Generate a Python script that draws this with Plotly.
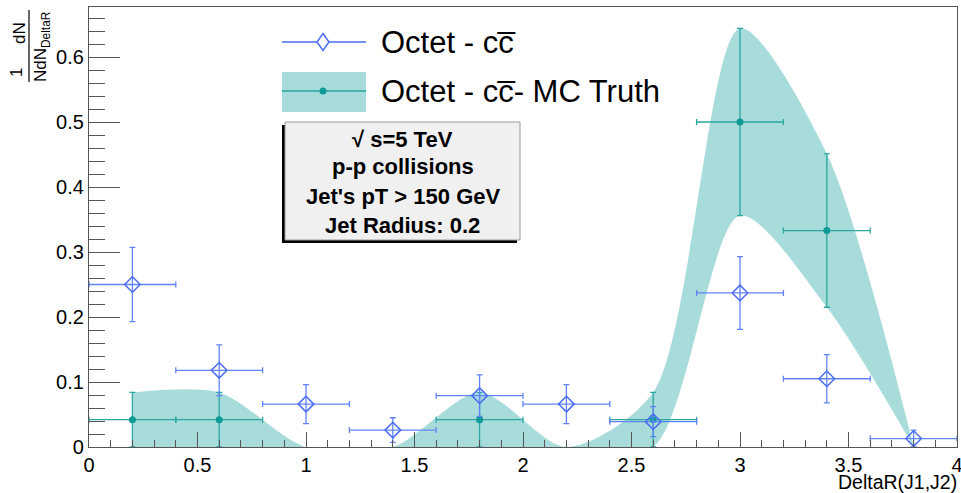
import plotly.graph_objects as go

# ---- data: normalised DeltaR(J1,J2) distributions, 10 bins of width 0.4 ----
delta_r = [0.2, 0.6, 1.0, 1.4, 1.8, 2.2, 2.6, 3.0, 3.4, 3.8]
bin_half_width = [0.2, 0.2, 0.2, 0.2, 0.2, 0.2, 0.2, 0.2, 0.2, 0.2]

octet_cc = [0.250, 0.118, 0.066, 0.026, 0.079, 0.066, 0.039, 0.237, 0.105, 0.013]
octet_cc_err = [0.057, 0.039, 0.030, 0.019, 0.032, 0.030, 0.023, 0.056, 0.037, 0.013]

octet_cc_mc = [0.042, 0.042, 0.0, 0.0, 0.042, 0.0, 0.042, 0.500, 0.333, 0.0]
octet_cc_mc_err = [0.042, 0.042, 0.0, 0.0, 0.042, 0.0, 0.042, 0.144, 0.118, 0.0]

x_range = [0, 4]
info_lines = ["√ s=5 TeV", "p-p collisions", "Jet's pT > 150 GeV", "Jet Radius: 0.2"]
legend_labels = ["Octet - cc\u0305", "Octet - cc\u0305- MC Truth"]

# ---- page geometry (pixels) ----
W, H = 961, 493
ML, MR, MT, MB = 89, 4, 7, 46
PW, PH = W - ML - MR, H - MT - MB
Y_PER_UNIT = 650.0
y_top = PH / Y_PER_UNIT

FONT = "Liberation Sans, Arial, Helvetica, sans-serif"
BLUE = "#4a6cf4"
BLUE_ERR = "#6283f8"
TEAL = "#0e9a95"
TEAL_ERR = "#2aa7a1"
BAND = "#a8dcdb"


def px(xp):
    return (xp - ML) / PW


def py(yp):
    return (H - MB - yp) / PH


band_hi = [v + e for v, e in zip(octet_cc_mc, octet_cc_mc_err)]
band_lo = [v - e for v, e in zip(octet_cc_mc, octet_cc_mc_err)]

mc_idx = [i for i, v in enumerate(octet_cc_mc) if v > 0]

fig = go.Figure()

# smoothed MC-truth uncertainty band
SMOOTH = 0.8
fig.add_trace(go.Scatter(
    x=delta_r, y=band_lo, mode="lines",
    line=dict(width=0, shape="spline", smoothing=SMOOTH, color=BAND),
    showlegend=False, hoverinfo="skip"))
fig.add_trace(go.Scatter(
    x=delta_r, y=band_hi, mode="lines", fill="tonexty", fillcolor=BAND,
    line=dict(width=0, shape="spline", smoothing=SMOOTH, color=BAND),
    showlegend=False, hoverinfo="skip"))

# MC-truth points
fig.add_trace(go.Scatter(
    x=[delta_r[i] for i in mc_idx],
    y=[octet_cc_mc[i] for i in mc_idx],
    mode="markers",
    marker=dict(symbol="circle", size=7, color=TEAL),
    error_y=dict(type="data", array=[octet_cc_mc_err[i] for i in mc_idx],
                 color=TEAL_ERR, thickness=1.3, width=3),
    error_x=dict(type="data", array=[bin_half_width[i] for i in mc_idx],
                 color=TEAL_ERR, thickness=1.3, width=3),
    showlegend=False))

# reconstructed octet points
fig.add_trace(go.Scatter(
    x=delta_r, y=octet_cc, mode="markers",
    marker=dict(symbol="diamond-open", size=12, color=BLUE,
                line=dict(width=1.5, color=BLUE)),
    error_y=dict(type="data", array=octet_cc_err,
                 color=BLUE_ERR, thickness=1.3, width=3),
    error_x=dict(type="data", array=bin_half_width,
                 color=BLUE_ERR, thickness=1.3, width=3),
    showlegend=False))

shapes = []
annotations = []

# ---- legend drawn by hand ----
lx0, lx1, lxc = 282, 366, 323
row1, row2 = 42, 91
shapes.append(dict(type="line", xref="paper", yref="paper",
                   x0=px(lx0), x1=px(lx1), y0=py(row1), y1=py(row1),
                   line=dict(color=BLUE, width=1.3)))
dw, dh = 6, 8.5
shapes.append(dict(type="path", xref="paper", yref="paper",
                   path=(f"M{px(lxc)},{py(row1 - dh)} L{px(lxc + dw)},{py(row1)} "
                         f"L{px(lxc)},{py(row1 + dh)} L{px(lxc - dw)},{py(row1)} Z"),
                   fillcolor="white", line=dict(color=BLUE, width=1.5)))
shapes.append(dict(type="rect", xref="paper", yref="paper",
                   x0=px(lx0), x1=px(lx1), y0=py(72), y1=py(112),
                   fillcolor=BAND, line=dict(width=0)))
shapes.append(dict(type="line", xref="paper", yref="paper",
                   x0=px(lx0), x1=px(lx1), y0=py(row2), y1=py(row2),
                   line=dict(color=TEAL_ERR, width=1.3)))
r = 3.5
shapes.append(dict(type="circle", xref="paper", yref="paper",
                   x0=px(lxc - r), x1=px(lxc + r), y0=py(row2 + r), y1=py(row2 - r),
                   fillcolor=TEAL, line=dict(width=0)))
for label, yy in zip(legend_labels, [row1, row2]):
    annotations.append(dict(text=label, xref="paper", yref="paper",
                            x=px(379), y=py(yy), xanchor="left", yanchor="middle",
                            showarrow=False, font=dict(family=FONT, size=31, color="black")))

# ---- info box with shadow ----
bx0, bx1, by0, by1 = 285, 520, 122, 240
shapes.append(dict(type="rect", xref="paper", yref="paper",
                   x0=px(bx0 - 3), x1=px(bx1 - 3), y0=py(by1 + 3), y1=py(by0 + 3),
                   fillcolor="black", line=dict(width=0)))
shapes.append(dict(type="rect", xref="paper", yref="paper",
                   x0=px(bx0), x1=px(bx1), y0=py(by1), y1=py(by0),
                   fillcolor="#f0f0f0", line=dict(color="#9a9a9a", width=1)))
for txt, yy in zip(info_lines, [139, 166, 196, 226]):
    annotations.append(dict(text=f"<b>{txt}</b>", xref="paper", yref="paper",
                            x=px((bx0 + bx1) / 2), y=py(yy), xanchor="center",
                            yanchor="middle", showarrow=False,
                            font=dict(family=FONT, size=22, color="black")))

# ---- axis titles ----
annotations.append(dict(text="DeltaR(J1,J2)", xref="paper", yref="paper",
                        x=px(959), y=py(482), xanchor="right", yanchor="middle",
                        showarrow=False, font=dict(family=FONT, size=19.5, color="black")))
annotations.append(dict(text="1", xref="paper", yref="paper", x=px(16), y=py(73),
                        xanchor="center", yanchor="middle", textangle=-90,
                        showarrow=False, font=dict(family=FONT, size=17, color="black")))
annotations.append(dict(text="dN", xref="paper", yref="paper", x=px(19), y=py(33),
                        xanchor="center", yanchor="middle", textangle=-90,
                        showarrow=False, font=dict(family=FONT, size=17, color="black")))
annotations.append(dict(text="NdN<sub>DeltaR</sub>", xref="paper", yref="paper",
                        x=px(42), y=py(47), xanchor="center", yanchor="middle",
                        textangle=-90, showarrow=False,
                        font=dict(family=FONT, size=17, color="black")))
shapes.append(dict(type="line", xref="paper", yref="paper",
                   x0=px(29), x1=px(29), y0=py(10), y1=py(82),
                   line=dict(color="black", width=1.2)))

axis_common = dict(
    showline=True, mirror=True, linecolor="#555555", linewidth=1.2,
    showgrid=False, zeroline=False, ticks="inside", tickcolor="#555555",
    tickwidth=1, automargin=False, ticklabeloverflow="allow",
    tickfont=dict(family=FONT, size=20, color="black"),
)

fig.update_layout(
    template="none",
    width=W, height=H,
    margin=dict(l=ML, r=MR, t=MT, b=MB, autoexpand=False),
    paper_bgcolor="white", plot_bgcolor="white",
    showlegend=False,
    xaxis=dict(range=x_range, dtick=0.5, ticklen=15,
               minor=dict(dtick=0.1, ticklen=7, ticks="inside",
                          tickcolor="#555555", showgrid=False),
               **axis_common),
    yaxis=dict(range=[0, y_top], dtick=0.1, ticklen=31,
               minor=dict(dtick=0.02, ticklen=16, ticks="inside",
                          tickcolor="#555555", showgrid=False),
               **axis_common),
    shapes=shapes,
    annotations=annotations,
)

fig.write_html("out.html")
